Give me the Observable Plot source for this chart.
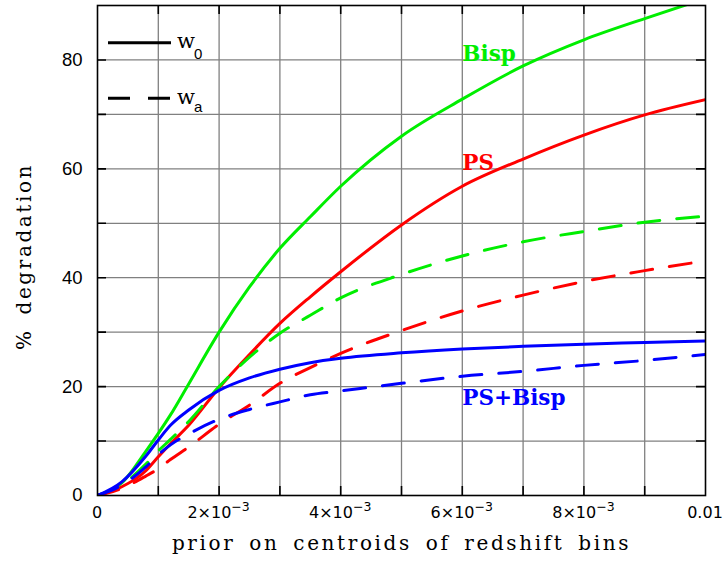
<!DOCTYPE html>
<html><head><meta charset="utf-8">
<script src="https://cdn.jsdelivr.net/npm/d3@7"></script>
<script src="https://cdn.jsdelivr.net/npm/@observablehq/plot@0.6"></script>
<style>body{margin:0;background:#fff;}</style>
</head><body><div id="chart"></div>
<script>
// prior on centroids of redshift bins
const priorX = [0, 0.0004, 0.0008, 0.001, 0.0012, 0.0015, 0.002, 0.0025, 0.003, 0.0035, 0.004, 0.005, 0.006, 0.007, 0.008, 0.009, 0.01];
// % degradation, w0 (solid)
const bispW0   = [0, 2.3, 8.2, 11.4, 14.8, 20.5, 30.0, 38.3, 45.4, 51.2, 56.8, 66.0, 72.8, 78.9, 83.7, 87.6, 91.3];
const psW0     = [0, 1.6, 4.6, 7.1, 9.5, 12.9, 19.8, 25.9, 31.6, 36.5, 41.1, 49.7, 56.8, 61.8, 66.2, 69.9, 72.7];
const combW0   = [0, 2.5, 7.3, 10.2, 12.9, 15.7, 19.3, 21.6, 23.2, 24.4, 25.2, 26.2, 26.9, 27.4, 27.8, 28.1, 28.4];
// % degradation, wa (dashed)
const bispWa   = [0, 2.0, 5.8, 8.2, 10.3, 13.6, 20.0, 25.4, 29.8, 33.1, 36.3, 40.6, 44.0, 46.6, 48.5, 50.2, 51.3];
const psWa     = [0, 1.3, 3.6, 4.9, 6.6, 8.9, 13.1, 16.6, 20.6, 23.5, 26.1, 30.3, 33.9, 36.8, 39.3, 41.3, 43.1];
const combWa   = [0, 1.9, 5.3, 7.5, 9.3, 11.3, 14.0, 15.8, 17.2, 18.5, 19.2, 20.6, 21.9, 22.8, 23.9, 24.8, 25.9];

const seriesNames  = ["Bisp", "PS", "PS+Bisp"];
const seriesColors = ["#00ee00", "#ff0000", "#0000ff"];
const paramNames   = ["w0", "wa"];
const legendBase   = ["w", "w"];
const legendSub    = ["0", "a"];

const xTickValues = [0, 0.002, 0.004, 0.006, 0.008, 0.01];
const xTickLabels = ["0", "2×10^−3", "4×10^−3", "6×10^−3", "8×10^−3", "0.01"];
const yTickValues = [0, 20, 40, 60, 80];
const yTickLabels = ["0", "20", "40", "60", "80"];
const xGridValues = [0.001, 0.002, 0.003, 0.004, 0.005, 0.006, 0.007, 0.008, 0.009];
const yGridValues = [10, 20, 30, 40, 50, 60, 70, 80];

const xTitle = "prior on centroids of redshift bins";
const yTitle = "% degradation";

// annotation anchors (data coordinates) for the series labels
const labelX = 0.006;
const labelY = [79.8, 59.8, 16.7];

const seriesValues = {
  "Bisp": {w0: bispW0, wa: bispWa},
  "PS": {w0: psW0, wa: psWa},
  "PS+Bisp": {w0: combW0, wa: combWa}
};
const rows = [];
for (const s of seriesNames) for (const p of paramNames)
  seriesValues[s][p].forEach((v, i) => rows.push({x: priorX[i], y: v, series: s, param: p}));
const labelRows = seriesNames.map((s, i) => ({x: labelX, y: labelY[i], series: s}));

const W = 725, H = 561, ML = 97, MR = 20, MT = 5, MB = 66;
const FW = W - ML - MR, FH = H - MT - MB, TK = 9;

function xTickLabelMark(index, scales, values, dim) {
  const g = d3.create("svg:g")
    .attr("font-family", "DejaVu Sans").attr("font-size", 16)
    .attr("text-anchor", "middle").attr("fill", "black");
  const y0 = dim.height - dim.marginBottom + 22.5;
  xTickValues.forEach((v, i) => {
    const [base, sup] = xTickLabels[i].split("^");
    const t = g.append("text").attr("x", scales.x(v)).attr("y", y0);
    t.append("tspan").text(base);
    if (sup) t.append("tspan").attr("dy", -7).attr("font-size", 12.5).text(sup);
  });
  return g.node();
}

function legendMark(index, scales, values, dim) {
  const g = d3.create("svg:g").attr("text-anchor", "start");
  paramNames.forEach((p, i) => {
    const y = dim.marginTop + 37.7 + i * 55.6;
    g.append("line")
      .attr("x1", dim.marginLeft + 11).attr("x2", dim.marginLeft + 74)
      .attr("y1", y).attr("y2", y)
      .attr("stroke", "black").attr("stroke-width", 3)
      .attr("stroke-dasharray", i === 0 ? null : "22,18");
    const t = g.append("text")
      .attr("x", dim.marginLeft + 80).attr("y", y + 5.6)
      .attr("fill", "black");
    t.append("tspan").attr("font-family", "DejaVu Serif").attr("font-size", 21).text(legendBase[i]);
    t.append("tspan").attr("dx", -1).attr("dy", i === 0 ? 10.7 : 8.4)
      .attr("font-family", "Liberation Sans").attr("font-size", 15).text(legendSub[i]);
  });
  return g.node();
}

const lineOpts = {x: "x", y: "y", stroke: "series", strokeWidth: 3, curve: "monotone-x", clip: true};

const chart = Plot.plot({
  width: W, height: H,
  marginLeft: ML, marginRight: MR, marginTop: MT, marginBottom: MB,
  x: {domain: [0, 0.01], axis: null},
  y: {domain: [0, 90], axis: null},
  color: {domain: seriesNames, range: seriesColors},
  style: {background: "white", overflow: "visible"},
  marks: [
    Plot.ruleX(xGridValues, {x: d => d, stroke: "#808080", strokeWidth: 1.3}),
    Plot.ruleY(yGridValues, {y: d => d, stroke: "#808080", strokeWidth: 1.3}),
    Plot.ruleX(xGridValues, {x: d => d, stroke: "black", strokeWidth: 1.6, strokeDasharray: `${TK},${FH - 2 * TK},${TK}`}),
    Plot.ruleY(yGridValues, {y: d => d, stroke: "black", strokeWidth: 1.6, strokeDasharray: `${TK},${FW - 2 * TK},${TK}`}),
    Plot.line(rows.filter(d => d.param === "w0" && d.series !== "PS+Bisp"), lineOpts),
    Plot.line(rows.filter(d => d.param === "wa" && d.series !== "PS+Bisp"), {...lineOpts, strokeDasharray: "22,17"}),
    Plot.line(rows.filter(d => d.param === "w0" && d.series === "PS+Bisp"), lineOpts),
    Plot.line(rows.filter(d => d.param === "wa" && d.series === "PS+Bisp"), {...lineOpts, strokeDasharray: "22,17"}),
    Plot.frame({stroke: "black", strokeWidth: 1.6}),
    Plot.text(labelRows, {x: "x", y: "y", text: "series", fill: "series", textAnchor: "start", lineAnchor: "bottom",
      fontFamily: "DejaVu Serif", fontWeight: "bold", fontSize: 21.5}),
    Plot.axisY(yTickValues, {tickSize: 0, tickPadding: 15, label: null, fontSize: 18.5, fontFamily: "Liberation Sans",
      tickFormat: d => yTickLabels[yTickValues.indexOf(d)]}),
    xTickLabelMark,
    legendMark,
    Plot.text([xTitle], {text: d => d, frameAnchor: "bottom", textAnchor: "middle", lineAnchor: "bottom", dy: 54, dx: 0,
      fontFamily: "DejaVu Serif", fontSize: 20, fill: "black"}),
    Plot.text([yTitle], {text: d => d, frameAnchor: "left", textAnchor: "middle", lineAnchor: "middle", rotate: -90,
      dx: -73, dy: 6, fontFamily: "DejaVu Serif", fontSize: 20, fill: "black"})
  ]
});
d3.select(chart).selectAll("text")
  .filter(function () { return this.textContent === xTitle || this.textContent === yTitle; })
  .style("letter-spacing", "2.6px").style("word-spacing", "5px");
document.getElementById("chart").appendChild(chart);
</script>
</body></html>
